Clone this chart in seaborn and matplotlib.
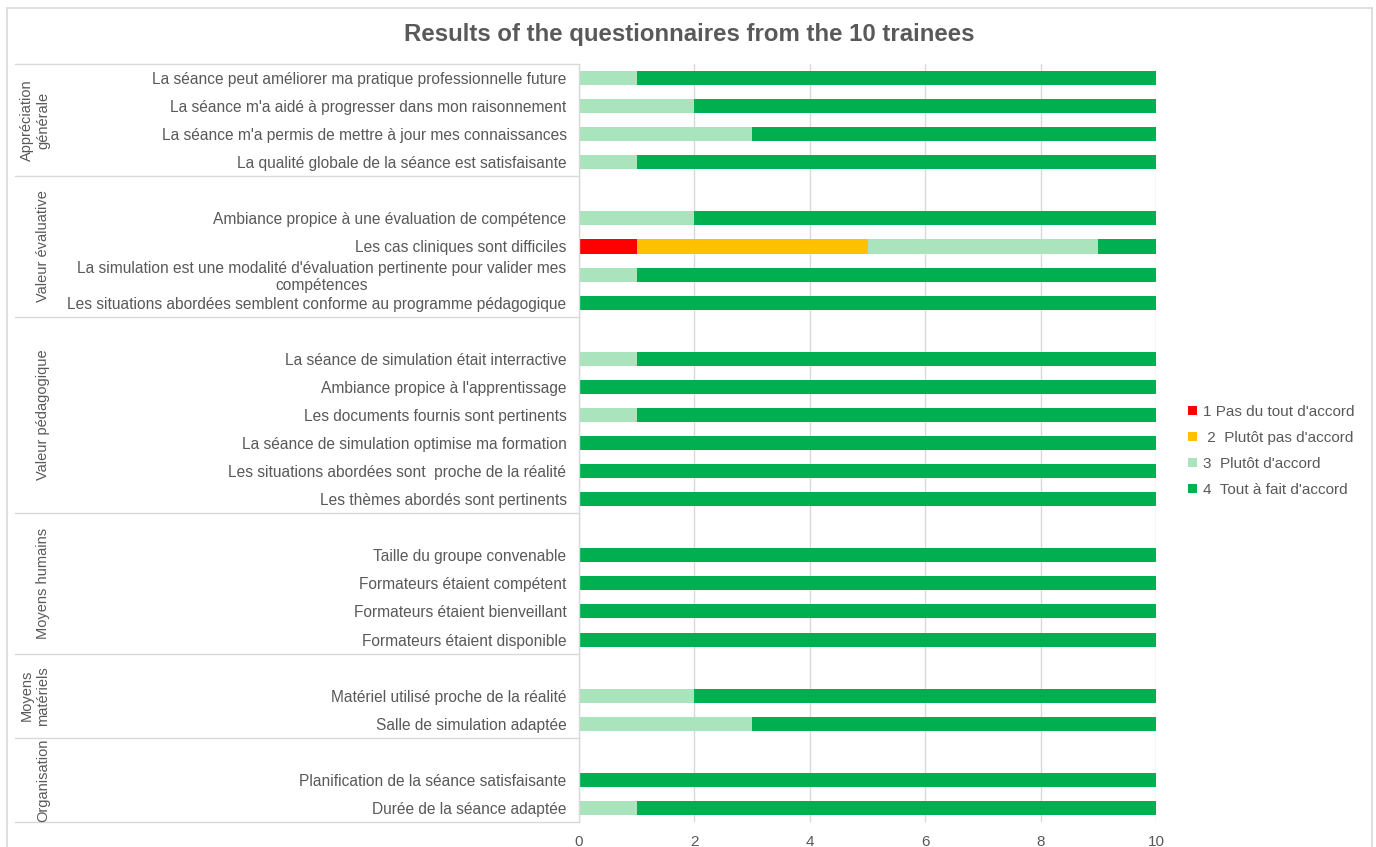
import matplotlib
matplotlib.use("Agg")
import matplotlib.pyplot as plt
from matplotlib.patches import Patch
from matplotlib.lines import Line2D
import seaborn as sns
import pandas as pd
import numpy as np

# ---------------- data ----------------
groups = ["Appréciation\ngénérale", "Valeur évaluative", "Valeur pédagogique",
          "Moyens humains", "Moyens\nmatériels", "Organisation"]
group_sizes = [4, 5, 7, 5, 3, 3]   # rows per group (incl. blank spacer row)

labels = [
    "La séance peut améliorer ma pratique professionnelle future",
    "La séance m'a aidé à progresser dans mon raisonnement",
    "La séance m'a permis de mettre à jour mes connaissances",
    "La qualité globale de la séance est satisfaisante",
    "",
    "Ambiance propice à une évaluation de compétence",
    "Les cas cliniques sont difficiles",
    "La simulation est une modalité d'évaluation pertinente pour valider mes\ncompétences",
    "Les situations abordées semblent conforme au programme pédagogique",
    "",
    "La séance de simulation était interractive",
    "Ambiance propice à l'apprentissage",
    "Les documents fournis sont pertinents",
    "La séance de simulation optimise ma formation",
    "Les situations abordées sont  proche de la réalité",
    "Les thèmes abordés sont pertinents",
    "",
    "Taille du groupe convenable",
    "Formateurs étaient compétent",
    "Formateurs étaient bienveillant",
    "Formateurs étaient disponible",
    "",
    "Matériel utilisé proche de la réalité",
    "Salle de simulation adaptée",
    "",
    "Planification de la séance satisfaisante",
    "Durée de la séance adaptée",
]

nan = np.nan
v1 = [0, 0, 0, 0, nan, 0, 1, 0, 0, nan, 0, 0, 0, 0, 0, 0, nan, 0, 0, 0, 0, nan, 0, 0, nan, 0, 0]
v2 = [0, 0, 0, 0, nan, 0, 4, 0, 0, nan, 0, 0, 0, 0, 0, 0, nan, 0, 0, 0, 0, nan, 0, 0, nan, 0, 0]
v3 = [1, 2, 3, 1, nan, 2, 4, 1, 0, nan, 1, 0, 1, 0, 0, 0, nan, 0, 0, 0, 0, nan, 2, 3, nan, 0, 1]
v4 = [9, 8, 7, 9, nan, 8, 1, 9, 10, nan, 9, 10, 9, 10, 10, 10, nan, 10, 10, 10, 10, nan, 8, 7, nan, 10, 9]

series_names = ["1 Pas du tout d'accord", " 2  Plutôt pas d'accord",
                "3  Plutôt d'accord", "4  Tout à fait d'accord"]
colors = ["#FF0000", "#FFC000", "#A9E4BC", "#00B050"]
x_ticks = [0, 2, 4, 6, 8, 10]

# ---------------- figure ----------------
sns.set_theme(style="white")
plt.rcParams["font.family"] = ["Liberation Sans", "DejaVu Sans"]
TXT = "#595959"
GRID = "#D9D9D9"

W, H = 1376, 847
fig = plt.figure(figsize=(W / 100, H / 100), dpi=100)
fig.patch.set_facecolor("white")

x0, x1, y0, y1 = 579, 1156, 64, 822
ax = fig.add_axes([x0 / W, 1 - y1 / H, (x1 - x0) / W, (y1 - y0) / H])

keys = [f"r{i}" for i in range(len(labels))]
df = pd.DataFrame({"key": keys, "v1": v1, "v2": v2, "v3": v3, "v4": v4})
df["c1"] = df["v1"]
df["c2"] = df["c1"] + df["v2"]
df["c3"] = df["c2"] + df["v3"]
df["c4"] = df["c3"] + df["v4"]

for col, colr in zip(["c4", "c3", "c2", "c1"], colors[::-1]):
    sns.barplot(data=df, x=col, y="key", order=keys, orient="h", color=colr,
                saturation=1, width=0.5, errorbar=None, ax=ax, linewidth=0)

n = len(labels)
ax.set_ylim(n - 0.5, -0.5)
ax.set_xlim(0, 10)
ax.set_xticks(x_ticks)
ax.set_xticklabels([str(t) for t in x_ticks], color=TXT, fontsize=11)
ax.set_yticks(range(n))
ax.set_yticklabels(labels, color=TXT, fontsize=11.2)
for t in ax.get_yticklabels():
    t.set_multialignment("center")
    t.set_linespacing(1.15)
ax.tick_params(axis="y", length=0, pad=9)
ax.tick_params(axis="x", length=0, pad=9)
ax.set_xlabel("")
ax.set_ylabel("")
ax.xaxis.grid(True, color=GRID, linewidth=1)
ax.set_axisbelow(True)
for s in ["top", "right", "bottom"]:
    ax.spines[s].set_visible(False)
ax.spines["left"].set_color(GRID)
ax.spines["left"].set_linewidth(1)

# group separators and group labels
tr = ax.get_yaxis_transform()
xs_left = (15 - x0) / (x1 - x0)
bounds = np.concatenate([[0], np.cumsum(group_sizes)]) - 0.5
for b in bounds:
    ax.add_line(Line2D([xs_left, 0], [b, b], transform=tr, color=GRID,
                       linewidth=1, clip_on=False))
for g, a, b in zip(groups, bounds[:-1], bounds[1:]):
    px = 35 if "\n" in g else 43
    ax.text((px - x0) / (x1 - x0), (a + b) / 2, g, transform=tr, rotation=90,
            ha="center", va="center", color=TXT, fontsize=10.5,
            multialignment="center", linespacing=1.2)

# title
fig.text(689 / W, 1 - 34 / H, "Results of the questionnaires from the 10 trainees",
         ha="center", va="center", fontsize=17.3, fontweight="bold", color=TXT)

# legend
handles = [Patch(facecolor=c, edgecolor="none") for c in colors]
fig.legend(handles, series_names, loc="center left",
           bbox_to_anchor=(1182 / W, 1 - 451 / H), frameon=False,
           fontsize=11, labelcolor=TXT, handlelength=0.55, handleheight=0.55,
           handletextpad=0.45, labelspacing=0.78, borderaxespad=0)

# chart border (left, top, right)
for xs, ys in [([7, 7], [8, H]), ([7, 1372], [8, 8]), ([1372, 1372], [8, H])]:
    fig.add_artist(Line2D([v / W for v in xs], [1 - v / H for v in ys],
                          color=GRID, linewidth=1.2))

fig.savefig("out.png", dpi=100, facecolor="white")
